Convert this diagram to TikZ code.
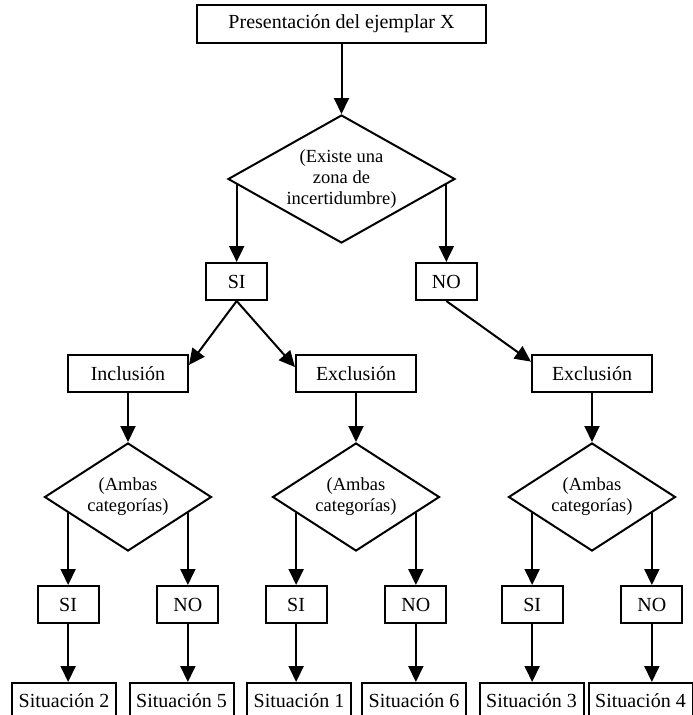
\documentclass[tikz,border=0pt]{standalone}
\usepackage{fontspec}
\setmainfont{Liberation Serif}
\usetikzlibrary{shapes.geometric,arrows.meta}
\tikzset{
  box/.style={draw,line width=2pt,inner sep=0pt,minimum width=61pt,minimum height=37pt,font=\fontsize{20}{22}\selectfont},
  sitbox/.style={box,minimum width=104pt,minimum height=35pt},
  choice/.style={draw,diamond,line width=2pt,inner sep=0pt,align=center,font=\fontsize{18.5}{21}\selectfont},
  smallchoice/.style={choice,aspect=1.55,minimum width=167pt,minimum height=108pt},
  arr/.style={line width=2pt,-{Triangle[length=16pt,width=15pt]}}
}
\begin{document}
\begin{tikzpicture}[x=1pt,y=-1pt]
\useasboundingbox (0,0) rectangle (693,715);
\node[box,minimum width=289pt,minimum height=38pt] (top) at (341.5,24) {Presentación del ejemplar X};
\node[choice,aspect=1.77,minimum width=227pt,minimum height=128pt] (d1) at (341.5,179) {(Existe una\\zona de\\incertidumbre)};
\node[box] (si1) at (d1.183 |- 0,281.5) {SI};
\node[box] (no1) at (d1.357 |- 0,281.5) {NO};
\draw[arr] (top) -- (d1);
\draw[arr] (d1.183) -- (si1.north);
\draw[arr] (d1.357) -- (no1.north);

\node[box,minimum width=120pt] (incl) at (128,373.5) {Inclusión};
\node[box,minimum width=120pt] (excl1) at (356,373.5) {Exclusión};
\node[box,minimum width=120pt] (excl2) at (592,373.5) {Exclusión};
\draw[arr] (si1.south) -- (incl.8);
\draw[arr] (si1.south) -- (excl1.174);
\draw[arr] (no1.south) -- (excl2.169);

\node[smallchoice] (d2) at (128,497) {(Ambas\\categorías)};
\node[smallchoice] (d3) at (356,497) {(Ambas\\categorías)};
\node[smallchoice] (d4) at (592,497) {(Ambas\\categorías)};
\draw[arr] (incl) -- (d2);
\draw[arr] (excl1) -- (d3);
\draw[arr] (excl2) -- (d4);

\node[box] (si2) at (d2.195 |- 0,604.5) {SI};
\node[box] (no2) at (d2.345 |- 0,604.5) {NO};
\node[box] (si3) at (d3.195 |- 0,604.5) {SI};
\node[box] (no3) at (d3.345 |- 0,604.5) {NO};
\node[box] (si4) at (d4.195 |- 0,604.5) {SI};
\node[box] (no4) at (d4.345 |- 0,604.5) {NO};
\draw[arr] (d2.195) -- (si2.north);
\draw[arr] (d2.345) -- (no2.north);
\draw[arr] (d3.195) -- (si3.north);
\draw[arr] (d3.345) -- (no3.north);
\draw[arr] (d4.195) -- (si4.north);
\draw[arr] (d4.345) -- (no4.north);

\node[sitbox] (sit2) at (64,700.5) {Situación 2};
\node[sitbox] (sit5) at (181.5,700.5) {Situación 5};
\node[sitbox] (sit1) at (299,700.5) {Situación 1};
\node[sitbox] (sit6) at (414,700.5) {Situación 6};
\node[sitbox] (sit3) at (531.5,700.5) {Situación 3};
\node[sitbox] (sit4) at (640.5,700.5) {Situación 4};
\draw[arr] (si2) -- (si2 |- sit2.north);
\draw[arr] (no2) -- (no2 |- sit5.north);
\draw[arr] (si3) -- (si3 |- sit1.north);
\draw[arr] (no3) -- (no3 |- sit6.north);
\draw[arr] (si4) -- (si4 |- sit3.north);
\draw[arr] (no4) -- (no4 |- sit4.north);
\end{tikzpicture}
\end{document}
